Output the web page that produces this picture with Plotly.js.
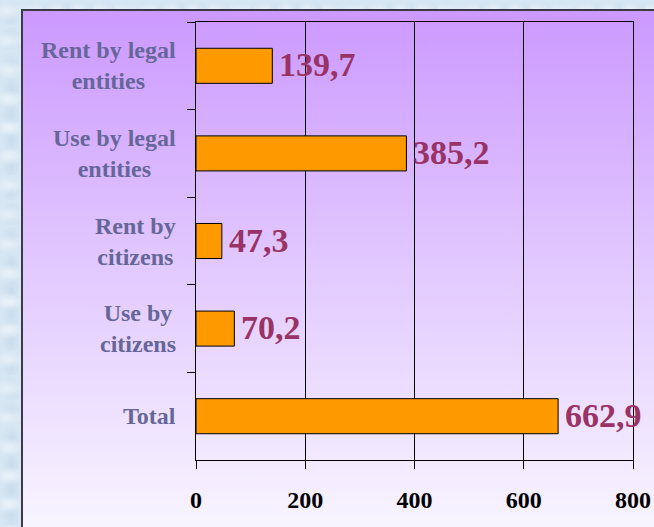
<!DOCTYPE html>
<html>
<head>
<meta charset="utf-8">
<script src="https://cdn.plot.ly/plotly-3.0.1.min.js"></script>
<style>
  html, body { margin: 0; padding: 0; }
  body {
    width: 654px; height: 527px; overflow: hidden; position: relative;
    background-color: #d6e6f3;
    background-image:
      radial-gradient(ellipse 14px 9px at 40% 40%, rgba(255,255,255,0.55), transparent),
      radial-gradient(ellipse 10px 14px at 60% 60%, rgba(185,208,228,0.45), transparent);
    background-size: 23px 29px, 19px 25px;
  }
  #panel {
    position: absolute; left: 21px; top: 9px; right: 0; bottom: 0;
    border-left: 2px solid #3a3a48; border-top: 2px solid #3a3a48;
    background: linear-gradient(to bottom, #cc99ff 0%, #e2c9ff 50%, #f8f4ff 100%);
  }
  #chart { position: absolute; left: 0; top: 0; width: 654px; height: 527px; }
</style>
</head>
<body>
<div id="panel"></div>
<div id="chart"></div>
<script>
const categories = ["Rent by legal<br>entities", "Use by legal<br>entities", "Rent by<br>citizens", "Use by<br>citizens", "Total"];
const values = [139.7, 385.2, 47.3, 70.2, 662.9];
const xTicks = [0, 200, 400, 600, 800];

const serif = "Liberation Serif, Times New Roman, serif";

const trace = {
  type: "bar",
  orientation: "h",
  x: values,
  y: categories,
  marker: { color: "#ff9900", line: { color: "#000000", width: 1 } },
  hoverinfo: "none"
};

const annotations = [];
categories.forEach((c, i) => {
  annotations.push({
    xref: "paper", yref: "y", x: 0, y: c,
    xanchor: "right", yanchor: "middle", xshift: -18, align: "center",
    text: c, showarrow: false,
    font: { family: serif, size: 24, color: "#666699", weight: "bold" }
  });
  annotations.push({
    xref: "x", yref: "y", x: values[i], y: c,
    xanchor: "left", yanchor: "middle", xshift: 5, yshift: 1,
    text: values[i].toFixed(1).replace(".", ","), showarrow: false,
    font: { family: serif, size: 34, color: "#993366", weight: "bold" }
  });
});

const layout = {
  width: 654, height: 527,
  margin: { l: 196, r: 21, t: 22, b: 67 },
  paper_bgcolor: "rgba(0,0,0,0)",
  plot_bgcolor: "rgba(0,0,0,0)",
  bargap: 0.6,
  showlegend: false,
  xaxis: {
    range: [0, 800], tickvals: xTicks, ticktext: xTicks.map(String),
    showgrid: true, gridcolor: "#000000", gridwidth: 1,
    zeroline: false, showline: true, linecolor: "#000000", linewidth: 1, mirror: true,
    ticks: "outside", ticklen: 8, tickcolor: "#000000",
    ticklabelstandoff: 10,
    tickfont: { family: serif, size: 24, color: "#000000", weight: "bold" },
    fixedrange: true
  },
  yaxis: {
    autorange: "reversed", showticklabels: false,
    showline: true, linecolor: "#000000", linewidth: 1, mirror: true,
    ticks: "outside", ticklen: 8, tickcolor: "#000000", tickson: "boundaries",
    showgrid: false, zeroline: false, fixedrange: true
  },
  annotations: annotations
};

Plotly.newPlot("chart", [trace], layout, { displayModeBar: false, staticPlot: true });
</script>
</body>
</html>
